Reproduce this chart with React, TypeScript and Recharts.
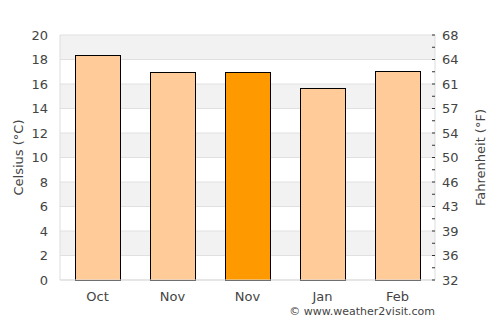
import { ComposedChart, Bar, Line, Cell, XAxis, YAxis, CartesianGrid } from 'recharts'

const MONTHS = ['Oct', 'Nov', 'Nov', 'Jan', 'Feb']
const CELSIUS = [18.3, 16.9, 16.9, 15.6, 17.0]
const HIGHLIGHT = 2
const C_TICKS = [0, 2, 4, 6, 8, 10, 12, 14, 16, 18, 20]
const F_TICKS = [0, 1, 2, 3, 4, 5, 6, 7, 8, 9, 10, 11, 12, 13, 14, 15, 16, 17, 18, 19, 20]

const data = MONTHS.map((m, i) => ({ month: m, temp: CELSIUS[i] }))

const FONT = 'DejaVu Sans, sans-serif'
const TEXT = '#444'

const toF = (c: number) => (c % 2 === 0 ? String(Math.round((c * 9) / 5 + 32)) : '')

export default function App() {
  return (
    <div style={{ position: 'absolute', left: 0, top: 0, width: 500, height: 325, fontFamily: FONT }}>
      <ComposedChart
        width={500}
        height={325}
        data={data}
        margin={{ top: 35, right: 0, left: 0, bottom: 20 }}
        barCategoryGap="20%"
      >
        <CartesianGrid
          yAxisId="c"
          vertical={false}
          stroke="#e0e0e0"
          horizontalFill={['#f2f2f2', '#ffffff']}
          fillOpacity={1}
        />
        <XAxis
          dataKey="month"
          height={25}
          tickLine={false}
          axisLine={{ stroke: '#ddd' }}
          tick={{ fill: TEXT, fontSize: 13, fontFamily: FONT }}
          tickMargin={6}
        />
        <YAxis
          yAxisId="c"
          orientation="left"
          width={60}
          domain={[0, 20]}
          ticks={C_TICKS}
          interval={0}
          tickLine={false}
          axisLine={{ stroke: '#ddd' }}
          tick={{ fill: TEXT, fontSize: 13, fontFamily: FONT }}
          tickMargin={6}
          label={{ value: 'Celsius (°C)', angle: -90, position: 'center', dx: -12, fill: TEXT, fontSize: 13, fontFamily: FONT }}
        />
        <YAxis
          yAxisId="f"
          orientation="right"
          width={65}
          domain={[0, 20]}
          ticks={F_TICKS}
          interval={0}
          allowDataOverflow
          tickFormatter={toF}
          tickLine={{ stroke: '#333' }}
          tickSize={-3}
          tickMargin={10}
          axisLine={{ stroke: '#ddd' }}
          tick={{ fill: TEXT, fontSize: 13, fontFamily: FONT }}
          label={{ value: 'Fahrenheit (°F)', angle: -90, position: 'center', dx: 13, fill: TEXT, fontSize: 13, fontFamily: FONT }}
        />
        <Bar
          yAxisId="c"
          dataKey="temp"
          stroke="#000"
          strokeWidth={1}
          shapeRendering="crispEdges"
          isAnimationActive={false}
        >
          {data.map((d, i) => (
            <Cell key={i} fill={i === HIGHLIGHT ? '#ff9900' : '#ffcc99'} />
          ))}
        </Bar>
        <Line
          yAxisId="f"
          dataKey="temp"
          stroke="none"
          dot={false}
          activeDot={false}
          legendType="none"
          isAnimationActive={false}
        />
      </ComposedChart>
      <div
        style={{
          position: 'absolute',
          right: 65,
          top: 305,
          fontSize: 11,
          color: TEXT,
          fontFamily: FONT,
          whiteSpace: 'nowrap',
        }}
      >
        © www.weather2visit.com
      </div>
    </div>
  )
}
